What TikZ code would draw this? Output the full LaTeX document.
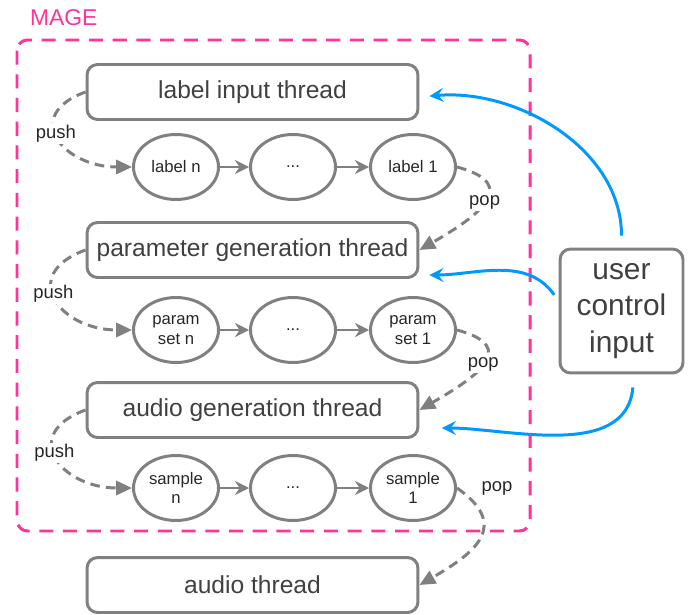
\documentclass[tikz,border=0pt]{standalone}
\usepackage{fontspec}
\setmainfont{Liberation Sans}
\usepackage{tikz}
\usetikzlibrary{arrows.meta,shapes.geometric,positioning,calc}
\usepackage{xcolor}
\definecolor{magepink}{RGB}{255,51,153}
\definecolor{ctrlblue}{RGB}{0,153,255}
\definecolor{linegray}{RGB}{128,128,128}
\definecolor{textgray}{RGB}{64,64,64}

\begin{document}
\begin{tikzpicture}[x=0.02cm,y=-0.02cm,
		thread/.style={draw=linegray,line width=1.7pt,rectangle,rounded corners=6pt,minimum width=6.62cm,minimum height=1.1cm,text=textgray,font=\fontsize{14}{16}\selectfont},
		queue/.style={draw=linegray,line width=1.7pt,ellipse,minimum width=1.7cm,minimum height=1.3cm,inner sep=0pt,align=center,text=black!85,font=\fontsize{9.5}{11}\selectfont},
		qarrow/.style={-{Stealth[length=8pt,width=8pt]},draw=linegray,line width=1.7pt},
		handoff/.style={-{Triangle[length=9pt,width=8pt]},draw=linegray,line width=1.7pt,dash pattern=on 5.5pt off 3.5pt},
		ctrl/.style={-{Stealth[length=8pt,width=8pt,inset=3pt]},draw=ctrlblue,line width=1.7pt},
		lbl/.style={fill=white,inner sep=1pt,text=black!85,font=\fontsize{10.5}{12}\selectfont}]
	\useasboundingbox (0,0) rectangle (693,615);
	% MAGE frame
	\draw[magepink,line width=1.7pt,dash pattern=on 8pt off 5.5pt,rounded corners=6pt] (17,40) rectangle (530,531);
	\node[text=magepink,font=\fontsize{13}{15}\selectfont,anchor=west] (mage) at (24,18) {MAGE};
	% threads
	\node[thread] (lit) at (252.5,92) {label input thread};
	\node[thread] (pgt) at (252.5,250) {parameter generation thread};
	\node[thread] (agt) at (252.5,410) {audio generation thread};
	\node[thread] (at) at (252.5,585) {audio thread};
	\node[draw=linegray,line width=1.7pt,rectangle,rounded corners=6pt,minimum width=2.46cm,minimum height=2.48cm,align=center,text=textgray,font=\fontsize{17}{21}\selectfont] (uci) at (621.5,311) {user\\control\\input};
	% queues
	\node[queue] (ln) at (176,167) {label n};
	\node[queue] (ld) at (293,167) {...};
	\node[queue] (l1) at (413,167) {label 1};
	\node[queue] (pn) at (176,330) {param\\set n};
	\node[queue] (pd) at (293,330) {...};
	\node[queue] (p1) at (413,330) {param\\set 1};
	\node[queue] (sn) at (176,488) {sample\\n};
	\node[queue] (sd) at (293,488) {...};
	\node[queue] (s1) at (413,488) {sample\\1};
	\draw[qarrow] (ln) -- (ld);
	\draw[qarrow] (ld) -- (l1);
	\draw[qarrow] (pn) -- (pd);
	\draw[qarrow] (pd) -- (p1);
	\draw[qarrow] (sn) -- (sd);
	\draw[qarrow] (sd) -- (s1);
	% push / pop
	\draw[handoff] (lit.west) to[out=200,in=180,looseness=2] node[lbl,pos=0.45] (push1) {push} (ln.west);
	\draw[handoff] (pgt.west) to[out=200,in=180,looseness=2] node[lbl,pos=0.45] (push2) {push} (pn.west);
	\draw[handoff] (agt.west) to[out=200,in=180,looseness=2] node[lbl,pos=0.45] (push3) {push} (sn.west);
	\draw[handoff] (l1.east) to[out=-15,in=30,looseness=1.9] node[lbl,pos=0.5] (pop1) {pop} (pgt.east);
	\draw[handoff] (p1.east) to[out=-15,in=30,looseness=1.9] node[lbl,pos=0.5] (pop2) {pop} (agt.east);
	\draw[handoff] (s1.east) to[out=-35,in=30,looseness=1.6] (at.east);
	\node[lbl,fill=none] (pop3) at (497,488) {pop};
	% user control
	\draw[ctrl,shorten <=0.24cm,shorten >=0.2cm] (uci.north) to[out=90,in=5] ([yshift=-0.1cm]lit.east);
	\draw[ctrl,shorten <=0.15cm,shorten >=0.2cm] ([yshift=0.2cm]uci.west) to[out=125,in=0] ([yshift=-0.5cm]pgt.east);
	\draw[ctrl,shorten <=0.26cm,shorten >=0.45cm] ([xshift=0.25cm]uci.south) to[out=-95,in=0] ([yshift=-0.36cm]agt.east);
\end{tikzpicture}
\end{document}
